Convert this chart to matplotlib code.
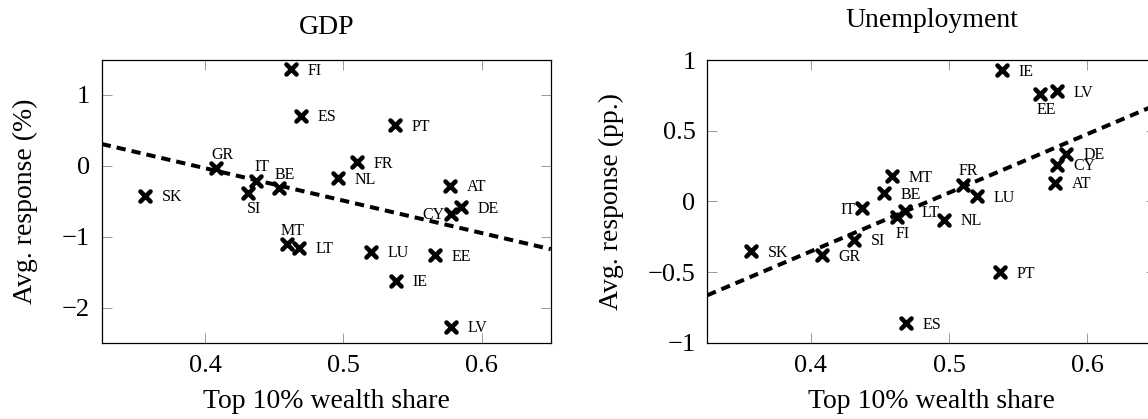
import numpy as np
import matplotlib
matplotlib.use("Agg")
import matplotlib.pyplot as plt
from matplotlib.markers import MarkerStyle

plt.rcParams['font.family'] = ['Liberation Serif', 'DejaVu Serif']
plt.rcParams['mathtext.fontset'] = 'stix'

countries = ["SK", "GR", "SI", "IT", "BE", "MT", "FI", "LT", "ES", "NL",
             "FR", "LU", "PT", "IE", "EE", "AT", "LV", "CY", "DE"]
wealth_share = [0.3565, 0.408, 0.431, 0.437, 0.453, 0.459, 0.462, 0.468, 0.469, 0.496,
                0.510, 0.520, 0.537, 0.538, 0.566, 0.577, 0.578, 0.578, 0.585]
gdp_response = [-0.418, -0.033, -0.376, -0.211, -0.319, -1.103, 1.362, -1.15, 0.704, -0.174,
                0.052, -1.211, 0.568, -1.62, -1.258, -0.277, -2.263, -0.676, -0.582]
unemp_response = [-0.351, -0.382, -0.271, -0.047, 0.059, 0.177, -0.111, -0.069, -0.861, -0.13,
                  0.118, 0.035, -0.5, 0.926, 0.762, 0.132, 0.778, 0.26, 0.337]

# label placement: r=right, l=left, a=above, b=below
gdp_label_pos = {"GR": "a", "IT": "a", "BE": "a", "SI": "b", "MT": "a", "CY": "l"}
unemp_label_pos = {"EE": "b", "FR": "a", "IT": "l", "FI": "b"}

panels = [
    dict(title="GDP", ylabel="Avg. response (%)", y=gdp_response, pos=gdp_label_pos,
         ylim=(-2.49, 1.49), yticks=[-2, -1, 0, 1], yticklabels=None,
         rect=[0.0886, 0.1821, 0.3911, 0.6747], title_y=1.092, ylabel_x=-0.171),
    dict(title="Unemployment", ylabel="Avg. response (pp.)", y=unemp_response, pos=unemp_label_pos,
         ylim=(-1.0, 1.0), yticks=[-1, -0.5, 0, 0.5, 1], yticklabels=["\u22121", "\u22120.5", "0", "0.5", "1"],
         rect=[0.6161, 0.1821, 0.3911, 0.6747], title_y=1.1157, ylabel_x=-0.2145),
]

xlim = (0.325, 0.65)
fig = plt.figure(figsize=(11.48, 4.19), dpi=100)
marker = MarkerStyle('x', capstyle='round')

for p in panels:
    ax = fig.add_axes(p["rect"])
    x = np.array(wealth_share)
    y = np.array(p["y"])
    slope, intercept = np.polyfit(x, y, 1)
    xx = np.array(xlim)
    ax.plot(xx, intercept + slope * xx, color='black', lw=2.9, linestyle=(0, (2.3, 1.5)),
            dash_capstyle='butt', zorder=2)
    ax.plot(x, y, linestyle='none', marker=marker, markersize=7.8, markeredgewidth=3.3,
            color='black', zorder=3)
    for c, xi, yi in zip(countries, x, y):
        d = p["pos"].get(c, "r")
        if d == "r":
            off, ha = (12, -4), 'left'
        elif d == "l":
            off, ha = (-4.5, -4), 'right'
        elif d == "a":
            off, ha = (4.3, 6.8), 'center'
        else:
            off, ha = (4.5, -14.8), 'center'
        ax.annotate(c, (xi, yi), xytext=off, textcoords='offset points', ha=ha,
                    va='baseline', fontsize=11.5, zorder=4)
    ax.set_xlim(*xlim)
    ax.set_ylim(*p["ylim"])
    ax.set_xticks([0.4, 0.5, 0.6])
    ax.set_yticks(p["yticks"])
    if p["yticklabels"]:
        ax.set_yticklabels(p["yticklabels"])
    ax.tick_params(direction='in', length=7.2, width=0.6, color='#8a8a8a',
                   top=True, right=True, labelsize=19, pad=8.5)
    for s in ax.spines.values():
        s.set_linewidth(0.9)
        s.set_color('black')
    ax.text(0.5, p["title_y"], p["title"], transform=ax.transAxes, ha='center',
            va='baseline', fontsize=20)
    ax.set_xlabel("Top 10% wealth share", fontsize=20, va='center')
    ax.xaxis.set_label_coords(0.5, -0.209)
    ax.set_ylabel(p["ylabel"], fontsize=20, va='center')
    ax.yaxis.set_label_coords(p["ylabel_x"], 0.5)

fig.savefig("out.png", dpi=100)
